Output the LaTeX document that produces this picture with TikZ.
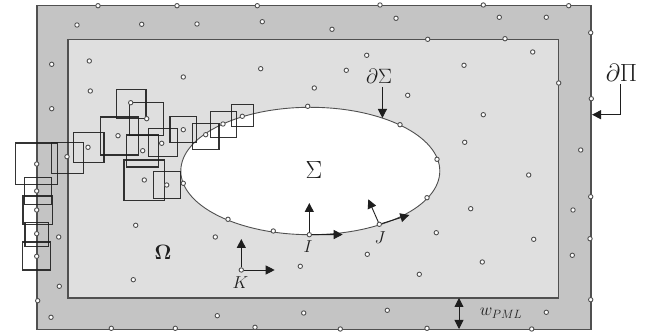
\documentclass[tikz,border=0pt]{standalone}
\usetikzlibrary{arrows.meta}
\definecolor{pml}{HTML}{C4C4C4}
\definecolor{dom}{HTML}{DFDFDF}
\definecolor{edge}{HTML}{505050}
\definecolor{ink}{HTML}{1E1E1E}
\tikzset{
  dot/.style={circle,draw=edge,fill=white,line width=0.9pt,inner sep=0pt,minimum size=4.4pt},
  box/.style={draw=ink,draw opacity=0.9,line width=1.1pt},
  bound/.style={draw=edge,line width=1.3pt},
  arr/.style={draw=ink,line width=0.9pt,-{Triangle[length=9pt,width=9pt]}},
  lab/.style={text=ink,inner sep=0pt}
}
\begin{document}
\begin{tikzpicture}[x=1pt,y=-1pt]
\useasboundingbox (0,0) rectangle (658,336);
\draw[bound,fill=pml] (37,5.7) rectangle (591,329.3);
\draw[bound,fill=dom] (68,39.3) rectangle (558.7,298);
\draw[draw=edge,line width=0.9pt,fill=white] (310.3,171) ellipse [x radius=129.5,y radius=63.7];
% support boxes
\foreach \a/\b/\c/\d in {
 116.3/89.3/146/118.7, 129.7/102.3/163.7/135.3, 100.3/117/138.3/155,
 73.3/132.3/104/162.7, 170/116.3/196.3/142.7, 148.3/128.3/177.3/156.7,
 126.7/135/158.7/167, 192.7/123.3/219/149.3, 210.3/111.3/236.7/137.7,
 231.3/104.7/253.7/126.7, 124/160/164.7/200.3, 153.3/171.7/180.7/198.7,
 15.3/143/57.3/184.7, 51.7/142.3/83.3/173.7, 24.3/177.3/51.3/204.7,
 23/196/52.3/224.7, 25/222.7/48.7/246.3, 22.3/242/50.7/270}
  {\draw[box] (\a,\b) rectangle (\c,\d);}
% nodes of the discretisation
\foreach \x/\y [count=\i] in {
 98/5.7,177/5.7,257.3/5.7,77/25,141.7/24.3,197/24,262.3/21.7,
 51.7/64.3,89.3/61,183.3/77,260.7/68.7,314.3/88,307.7/106.3,
 51.7/108.7,90.3/91,130.7/102.7,146.7/118.7,118/135.7,88/147.3,142.7/150.7,
 161.7/143.3,183.3/129.7,205.7/134.7,223/124,242.3/116.3,36.7/164,67/156.7,
 380/5,483.3/5,568.7/5.7,396/18.3,499.3/17.3,546.3/17.3,332/29.3,590.7/32.7,
 427.7/39.3,505/38.7,366.7/55.3,532.7/52,346.3/70.3,464/65.3,558.7/83,
 407.7/95.3,591.3/98.7,483.3/114.7,400/124.7,464.7/142.3,580.7/150,437/159.3,
 36.7/191,36.7/210,36.7/233.7,36.7/256.3,144.3/180,166.7/185,183.3/183.3,
 228/219.3,273.3/231,135.7/225.3,215.3/237,58.7/237,59.3/286.3,133.3/279.7,
 300.3/266.3,37.7/300.7,51/317.3,217.3/315.7,303.7/313,111.3/328.3,175.3/328.3,255/327.3,
 528.7/175,590.7/196.7,573/210,427/197.7,470.7/208.7,436.3/232.7,533.7/239.3,590/238.7,
 367.3/254.3,572.3/255.3,482.3/262,419.3/274.3,590.7/299.7,387.3/310.3,546.3/312.3,
 340.3/329,427/328.3,531.7/329}
  {\node[dot] (d\i) at (\x,\y) {};}
% arrow ends
\coordinate (kup) at (241.3,239);
\coordinate (kri) at (274.7,270);
\coordinate (iup) at (309.3,203);
\coordinate (iri) at (342.7,234.5);
\coordinate (jup) at (368.3,199.3);
\coordinate (jri) at (409.3,215);
\coordinate (sa) at (382.4,87);
\coordinate (sb) at (382.4,118);
\coordinate (pa) at (620,84.3);
\coordinate (pb) at (620,114.7);
\coordinate (pc) at (592,114.7);
\coordinate (wa) at (459,298);
\coordinate (wb) at (459,329);
\node[dot] (K) at (241.3,270) {};
\node[dot] (I) at (309.3,234.7) {};
\node[dot] (J) at (379.3,224.3) {};
\draw[arr] (K) -- (kup);
\draw[arr] (K) -- (kri);
\draw[arr] (I) -- (iup);
\draw[arr] (I) -- (iri);
\draw[arr] (J) -- (jup);
\draw[arr] (J) -- (jri);
\draw[arr] (sa) -- (sb);
\draw[arr] (pa) -- (pb) -- (pc);
\draw[draw=ink,line width=0.9pt,{Triangle[length=9pt,width=9pt]}-{Triangle[length=9pt,width=9pt]}] (wa) -- (wb);
% labels
\node[lab,font=\fontsize{22}{24}\selectfont] (ds) at (379,76) {$\partial\Sigma$};
\node[lab,font=\fontsize{23}{25}\selectfont] (dp) at (621.5,72.5) {$\partial\Pi$};
\node[lab,font=\fontsize{26}{28}\selectfont] (s) at (314,170.5) {$\Sigma$};
\node[lab,font=\fontsize{21}{23}\selectfont] (o) at (163,252) {$\mathbf{\Omega}$};
\node[lab,font=\fontsize{17}{19}\selectfont] (li) at (308,246.5) {$I$};
\node[lab,font=\fontsize{17}{19}\selectfont] (lj) at (380,238) {$J$};
\node[lab,font=\fontsize{17}{19}\selectfont] (lk) at (240.5,282.5) {$K$};
\node[lab,font=\fontsize{17}{19}\selectfont] (lw) at (501,313.5) {$w_{PML}$};
\end{tikzpicture}
\end{document}
